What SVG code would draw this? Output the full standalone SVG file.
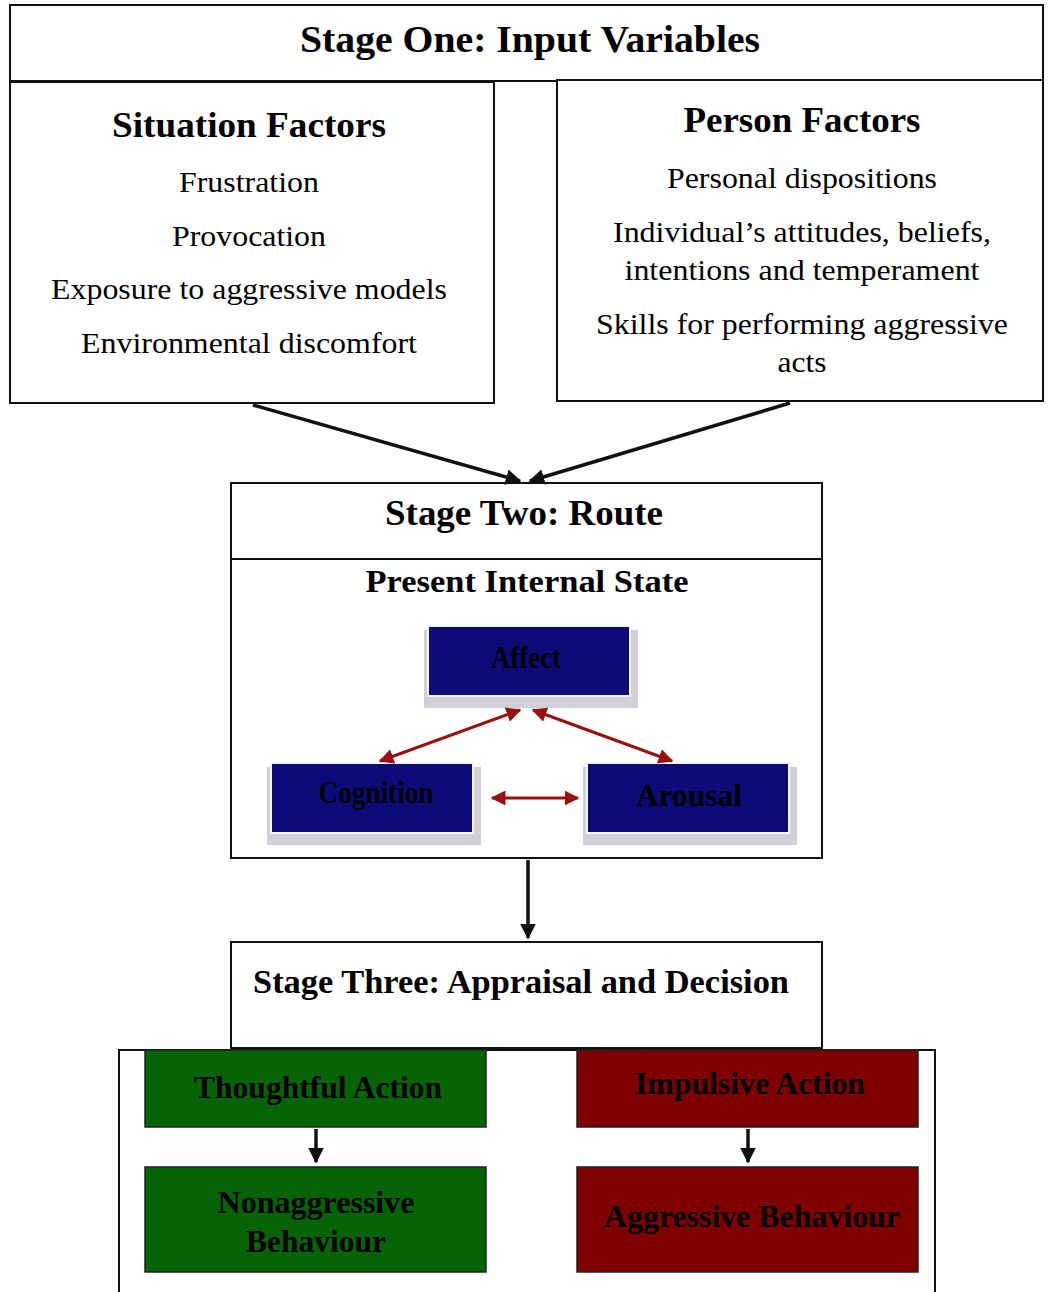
<svg xmlns="http://www.w3.org/2000/svg" width="1048" height="1292" viewBox="0 0 1048 1292">
<defs>
<style>
.box{fill:#fff;stroke:#111;stroke-width:2}
.t{font-family:"Liberation Serif","Times New Roman",serif;fill:#000;text-anchor:middle}
.b{font-weight:bold}
.navy{fill:#0c0c78;stroke:#f4f4fa;stroke-width:2}
.shadow{fill:#cfd0d8}
.green{fill:#066406;stroke:#222;stroke-width:1.5}
.red{fill:#7e0000;stroke:#222;stroke-width:1.5}
.blk{stroke:#111;stroke-width:3.5;fill:none}
.rd{stroke:#9a1010;stroke-width:3;fill:none}
</style>
<marker id="ab" viewBox="0 0 10 10" refX="9" refY="5" markerWidth="4.5" markerHeight="4.5" orient="auto-start-reverse" markerUnits="strokeWidth"><path d="M0,0 L10,5 L0,10 z" fill="#111"/></marker>
<marker id="ar" viewBox="0 0 10 10" refX="9" refY="5" markerWidth="5" markerHeight="5" orient="auto-start-reverse" markerUnits="strokeWidth"><path d="M0,0 L10,5 L0,10 z" fill="#9a1010"/></marker>
</defs>
<rect width="1048" height="1292" fill="#fff"/>

<g id="stage-one">
<rect class="box" x="10" y="5" width="1033" height="76"/>
<text class="t b" x="530" y="52" font-size="37" textLength="460" lengthAdjust="spacingAndGlyphs">Stage One: Input Variables</text>
</g>

<g id="situation-factors">
<rect class="box" x="10" y="82" width="484" height="321"/>
<text class="t b" x="249" y="137" font-size="35" textLength="274" lengthAdjust="spacingAndGlyphs">Situation Factors</text>
<text class="t" x="249" y="192" font-size="29" textLength="140" lengthAdjust="spacingAndGlyphs">Frustration</text>
<text class="t" x="249" y="246" font-size="29" textLength="154" lengthAdjust="spacingAndGlyphs">Provocation</text>
<text class="t" x="249" y="299" font-size="29" textLength="396" lengthAdjust="spacingAndGlyphs">Exposure to aggressive models</text>
<text class="t" x="249" y="353" font-size="29" textLength="336" lengthAdjust="spacingAndGlyphs">Environmental discomfort</text>
</g>

<g id="person-factors">
<rect class="box" x="557" y="80" width="486" height="321"/>
<text class="t b" x="802" y="132" font-size="35" textLength="237" lengthAdjust="spacingAndGlyphs">Person Factors</text>
<text class="t" x="802" y="188" font-size="29" textLength="270" lengthAdjust="spacingAndGlyphs">Personal dispositions</text>
<text class="t" x="802" y="242" font-size="29" textLength="378" lengthAdjust="spacingAndGlyphs">Individual’s attitudes, beliefs,</text>
<text class="t" x="802" y="280" font-size="29" textLength="355" lengthAdjust="spacingAndGlyphs">intentions and temperament</text>
<text class="t" x="802" y="334" font-size="29" textLength="412" lengthAdjust="spacingAndGlyphs">Skills for performing aggressive</text>
<text class="t" x="802" y="372" font-size="29" textLength="49" lengthAdjust="spacingAndGlyphs">acts</text>
</g>

<g id="stage-two">
<rect class="box" x="231" y="483" width="591" height="375"/>
<line x1="231" y1="559" x2="822" y2="559" stroke="#111" stroke-width="2"/>
<text class="t b" x="524" y="525" font-size="35" textLength="278" lengthAdjust="spacingAndGlyphs">Stage Two: Route</text>
<text class="t b" x="527" y="592" font-size="31" textLength="323" lengthAdjust="spacingAndGlyphs">Present Internal State</text>
</g>

<g id="affect">
<rect class="shadow" x="424" y="630" width="214" height="78"/>
<rect class="navy" x="428" y="626" width="202" height="70"/>
<text class="t b" x="526" y="668" font-size="31" textLength="70" lengthAdjust="spacingAndGlyphs">Affect</text>
</g>

<g id="cognition">
<rect class="shadow" x="267" y="767" width="214" height="78"/>
<rect class="navy" x="271" y="763" width="202" height="70"/>
<text class="t b" x="376" y="803" font-size="31" textLength="115" lengthAdjust="spacingAndGlyphs">Cognition</text>
</g>

<g id="arousal">
<rect class="shadow" x="583" y="767" width="214" height="78"/>
<rect class="navy" x="587" y="763" width="202" height="70"/>
<text class="t b" x="689" y="806" font-size="31" textLength="106" lengthAdjust="spacingAndGlyphs">Arousal</text>
</g>

<g id="stage-three">
<rect class="box" x="231" y="942" width="591" height="106"/>
<text class="t b" x="521" y="993" font-size="34" textLength="536" lengthAdjust="spacingAndGlyphs">Stage Three: Appraisal and Decision</text>
</g>

<g id="decision-container">
<rect class="box" x="119" y="1050" width="816" height="250"/>
</g>

<g id="thoughtful-action">
<rect class="green" x="145" y="1050" width="341" height="77"/>
<text class="t b" x="318" y="1098" font-size="31" textLength="248" lengthAdjust="spacingAndGlyphs">Thoughtful Action</text>
</g>

<g id="nonaggressive-behaviour">
<rect class="green" x="145" y="1167" width="341" height="105"/>
<text class="t b" x="316" y="1213" font-size="31" textLength="197" lengthAdjust="spacingAndGlyphs">Nonaggressive</text>
<text class="t b" x="316" y="1252" font-size="31" textLength="140" lengthAdjust="spacingAndGlyphs">Behaviour</text>
</g>

<g id="impulsive-action">
<rect class="red" x="577" y="1050" width="341" height="77"/>
<text class="t b" x="750" y="1094" font-size="31" textLength="230" lengthAdjust="spacingAndGlyphs">Impulsive Action</text>
</g>

<g id="aggressive-behaviour">
<rect class="red" x="577" y="1167" width="341" height="105"/>
<text class="t b" x="752" y="1227" font-size="31" textLength="296" lengthAdjust="spacingAndGlyphs">Aggressive Behaviour</text>
</g>

<g id="connectors">
<line class="blk" x1="253" y1="405" x2="520" y2="481" marker-end="url(#ab)"/>
<line class="blk" x1="790" y1="403" x2="530" y2="481" marker-end="url(#ab)"/>
<line class="blk" x1="528" y1="860" x2="528" y2="938" marker-end="url(#ab)"/>
<line class="rd" x1="520" y1="710" x2="380" y2="761" marker-start="url(#ar)" marker-end="url(#ar)"/>
<line class="rd" x1="533" y1="710" x2="672" y2="761" marker-start="url(#ar)" marker-end="url(#ar)"/>
<line class="rd" x1="492" y1="798" x2="578" y2="798" marker-start="url(#ar)" marker-end="url(#ar)"/>
<line class="blk" x1="316" y1="1129" x2="316" y2="1162" stroke-width="2.5" marker-end="url(#ab)"/>
<line class="blk" x1="748" y1="1129" x2="748" y2="1162" stroke-width="2.5" marker-end="url(#ab)"/>
</g>
</svg>
